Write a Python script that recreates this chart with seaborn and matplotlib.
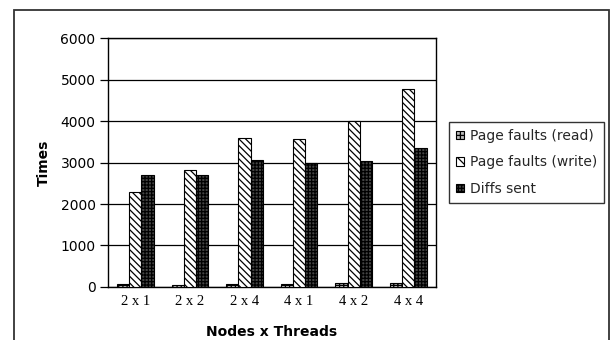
import matplotlib
matplotlib.use("Agg")
import matplotlib.pyplot as plt
from matplotlib.patches import Patch, Rectangle
import pandas as pd
import seaborn as sns

# Data
configs = ["2x1", "2x2", "2x4", "4x1", "4x2", "4x4"]
tick_labels = ["2 x 1", "2 x 2", "2 x 4", "4 x 1", "4 x 2", "4 x 4"]
series = ["Page faults (read)", "Page faults (write)", "Diffs sent"]
read_faults = [70, 60, 70, 70, 100, 100]
write_faults = [2290, 2810, 3600, 3560, 4000, 4760]
diffs_sent = [2700, 2700, 3070, 2990, 3030, 3340]

df = pd.DataFrame({
    "config": configs * 3,
    "times": read_faults + write_faults + diffs_sent,
    "series": [series[0]] * 6 + [series[1]] * 6 + [series[2]] * 6,
})

sns.set_theme(style="white")
plt.rcParams["font.family"] = ["DejaVu Sans"]
plt.rcParams["hatch.linewidth"] = 0.9

fig = plt.figure(figsize=(6.13, 3.40), dpi=100)
ax = fig.add_axes([0.1762, 0.1559, 0.5343, 0.7323])

sns.barplot(data=df, x="config", y="times", hue="series", order=configs,
            hue_order=series, palette=["white"] * 3, width=0.67,
            edgecolor="black", linewidth=0.8, legend=False, ax=ax, zorder=3)

hatches = ["++++", "\\\\\\\\\\", "+++++"]
fills = ["#bbbbbb", "white", "#444444"]
for cont, h, fc in zip(ax.containers, hatches, fills):
    for bar in cont:
        bar.set_hatch(h)
        bar.set_facecolor(fc)

ax.set_ylim(0, 6000)
ax.set_yticks(range(0, 6001, 1000))
ax.set_xlim(-0.5, 5.5)
ax.yaxis.grid(True, color="black", linewidth=0.9)
ax.set_axisbelow(True)
for s in ax.spines.values():
    s.set_visible(True)
    s.set_color("black")
    s.set_linewidth(1.0)

ax.tick_params(axis="y", direction="out", length=5.5, width=0.9, color="black",
               labelsize=10, pad=3.5, left=True, labelcolor="black")
ax.tick_params(axis="x", length=0, pad=6, labelcolor="black")
ax.set_xticks(range(len(configs)))
ax.set_xticklabels(tick_labels, fontsize=10.5, family=["Liberation Serif", "DejaVu Serif"])

ax.set_ylabel("Times", fontsize=10, fontweight="bold", labelpad=7, color="black")
ax.set_xlabel("Nodes x Threads", fontsize=10, fontweight="bold", labelpad=12, color="black")

handles = [
    Patch(facecolor=fills[0], edgecolor="black", hatch=hatches[0], linewidth=0.8),
    Patch(facecolor=fills[1], edgecolor="black", hatch="\\\\\\", linewidth=0.8),
    Patch(facecolor=fills[2], edgecolor="black", hatch=hatches[2], linewidth=0.8),
]
leg = fig.legend(handles, series, loc="upper left",
                 bbox_to_anchor=(449 / 613, 1 - 122 / 340),
                 frameon=True, fancybox=False, edgecolor="black",
                 fontsize=10, handlelength=0.6, handleheight=0.6,
                 handletextpad=0.4, borderpad=0.5, labelspacing=0.9,
                 borderaxespad=0)
leg.get_frame().set_linewidth(1.0)

# chart border
fig.patches.append(Rectangle((14 / 613, -0.05), (609 - 14) / 613, 1.05 - 10 / 340,
                             transform=fig.transFigure, fill=False,
                             edgecolor="#333333", linewidth=1.3))

fig.savefig("out.png", dpi=100)
